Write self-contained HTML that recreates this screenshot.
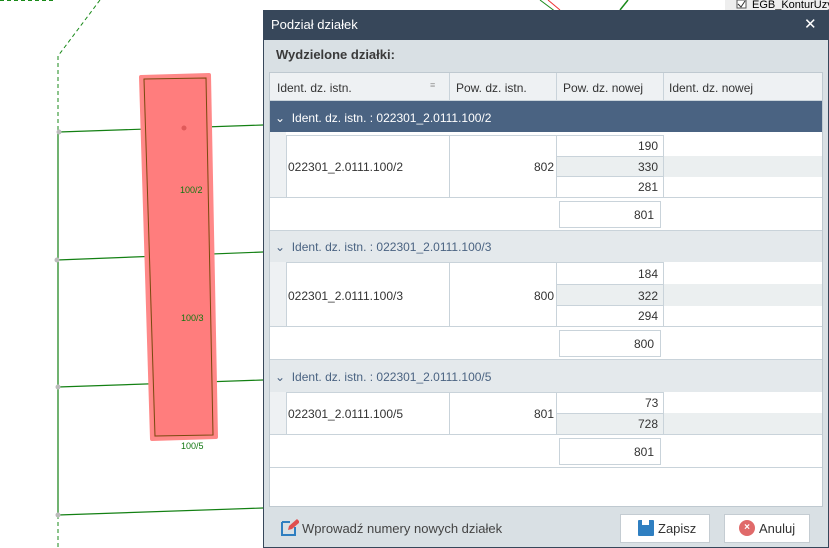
<!DOCTYPE html><html><head><meta charset="utf-8"><style>
body{margin:0;width:829px;height:548px;overflow:hidden;background:#fff;font-family:"Liberation Sans",sans-serif;font-size:12px;color:#333;position:relative}
.a{position:absolute;box-sizing:border-box}
.t{position:absolute;white-space:nowrap}
.c{border:1px solid #c9d3da;background:#fff}
</style></head><body>
<svg class="a" style="left:0;top:0" width="829" height="548">
<polyline points="100,0 58,56 58,132" fill="none" stroke="#1a8a1a" stroke-dasharray="4,3"/>
<line x1="58" y1="515" x2="58" y2="548" stroke="#1a8a1a" stroke-dasharray="4,3"/>
<line x1="0" y1="0" x2="56" y2="0" stroke="#1a8a1a" stroke-dasharray="4,3" stroke-width="2"/>
<g stroke="#138013" stroke-width="1.2">
<line x1="59" y1="132" x2="263" y2="125"/><line x1="57" y1="260" x2="263" y2="252"/>
<line x1="58" y1="387" x2="263" y2="380"/><line x1="58" y1="515" x2="263" y2="508"/>
<line x1="58" y1="132" x2="58" y2="515"/></g>
<polygon points="141,77 209,75 216,437 152,439" fill="#ff7d7d" stroke="#f88" stroke-width="4" stroke-linejoin="round"/>
<polygon points="144,79 206,78 213,435 155,436" fill="none" stroke="#7a4a10" stroke-width="1"/>
<g fill="#bbb"><circle cx="59" cy="132" r="2.5"/><circle cx="57" cy="260" r="2.5"/><circle cx="58" cy="387" r="2.5"/><circle cx="58" cy="515" r="2.5"/></g>
<circle cx="184" cy="128" r="2.5" fill="#e05a5a"/>
<g font-size="9" fill="#117711" font-family="Liberation Sans"><text x="180" y="193">100/2</text><text x="181" y="321">100/3</text><text x="181" y="449">100/5</text></g>
<line x1="540" y1="0" x2="556" y2="12" stroke="#1a8a1a"/><line x1="548" y1="0" x2="560" y2="10" stroke="#e33"/>
<line x1="620" y1="10" x2="628" y2="0" stroke="#1a8a1a" stroke-width="1.5"/>
<rect x="725" y="0" width="104" height="10" fill="#eee"/>
<text x="752" y="8" font-size="11" font-family="Liberation Sans" fill="#000">EGB_KonturUzy</text>
<rect x="737" y="0" width="9" height="8" fill="#fff" stroke="#555"/>
<path d="M738 4l3 3 4-6" fill="none" stroke="#333"/>
</svg>
<div class="a" style="left:263px;top:10px;width:566px;height:538px;background:#d9e0e4;border:1px solid #37475a"></div>
<div class="a" style="left:263px;top:10px;width:566px;height:30px;background:#37475a"></div>
<div class="t" style="left:271px;top:17px;color:#fff;font-size:13px">Podział działek</div>
<div class="t" style="left:804px;top:15px;color:#fff;font-size:15px">✕</div>
<div class="t" style="left:276px;top:47px;font-weight:bold;font-size:13px;color:#3a3a3a">Wydzielone działki:</div>
<div class="a" style="left:269px;top:72px;width:554px;height:435px;background:#fff;border:1px solid #bfc9d0"></div>
<div class="a" style="left:270px;top:73px;width:552px;height:28px;background:#eef1f3;border-bottom:1px solid #c9d3da"></div>
<div class="a" style="left:449px;top:73px;width:1px;height:28px;background:#c9d3da"></div>
<div class="a" style="left:556px;top:73px;width:1px;height:28px;background:#c9d3da"></div>
<div class="a" style="left:663px;top:73px;width:1px;height:28px;background:#c9d3da"></div>
<div class="t" style="left:277px;top:81px">Ident. dz. istn.</div>
<div class="t" style="left:430px;top:80px;font-size:9px;color:#999">≡</div>
<div class="t" style="left:456px;top:81px">Pow. dz. istn.</div>
<div class="t" style="left:563px;top:81px">Pow. dz. nowej</div>
<div class="t" style="left:669px;top:81px">Ident. dz. nowej</div>

<div class="a" style="left:270px;top:101px;width:552px;height:31px;background:#4a6382"></div>
<div class="t" style="left:275px;top:111px;color:#fff">⌄ &nbsp;Ident. dz. istn. : 022301_2.0111.100/2</div>

<div class="a" style="left:270px;top:132px;width:552px;height:99px;background:#fff"></div>
<div class="a" style="left:270px;top:132px;width:16px;height:66px;background:#eef1f3"></div>
<div class="a c" style="left:286px;top:135px;width:164px;height:63px"></div>
<div class="a c" style="left:449px;top:135px;width:108px;height:63px"></div>
<div class="a c" style="left:556px;top:135px;width:108px;height:22px"></div>
<div class="a c" style="left:556px;top:156px;width:108px;height:21px;background:#ebeff0"></div>
<div class="a" style="left:664px;top:156px;width:158px;height:21px;background:#ebeff0"></div>
<div class="a c" style="left:556px;top:176px;width:108px;height:22px"></div>
<div class="a" style="left:270px;top:197px;width:552px;height:1px;background:#c9d3da"></div>
<div class="t" style="left:288px;top:160px">022301_2.0111.100/2</div>
<div class="t" style="left:534px;top:160px">802</div>
<div class="t" style="left:638px;top:139px">190</div><div class="t" style="left:638px;top:160px">330</div><div class="t" style="left:638px;top:180px">281</div>
<div class="a c" style="left:559px;top:201px;width:102px;height:27px"></div>
<div class="t" style="left:634px;top:208px">801</div>
<div class="a" style="left:270px;top:230px;width:552px;height:1px;background:#c9d3da"></div>

<div class="a" style="left:270px;top:231px;width:552px;height:31px;background:#e4e9ec"></div>
<div class="t" style="left:275px;top:240px;color:#4a6382">⌄ &nbsp;Ident. dz. istn. : 022301_2.0111.100/3</div>
<div class="a" style="left:270px;top:262px;width:16px;height:64px;background:#eef1f3"></div>
<div class="a c" style="left:286px;top:262px;width:164px;height:65px"></div>
<div class="a c" style="left:449px;top:262px;width:108px;height:65px"></div>
<div class="a c" style="left:556px;top:262px;width:108px;height:23px"></div>
<div class="a c" style="left:556px;top:284px;width:108px;height:22px;background:#ebeff0"></div>
<div class="a" style="left:664px;top:284px;width:158px;height:22px;background:#ebeff0"></div>
<div class="a c" style="left:556px;top:305px;width:108px;height:22px"></div>
<div class="a" style="left:270px;top:326px;width:552px;height:1px;background:#c9d3da"></div>
<div class="t" style="left:288px;top:289px">022301_2.0111.100/3</div>
<div class="t" style="left:534px;top:289px">800</div>
<div class="t" style="left:638px;top:267px">184</div><div class="t" style="left:638px;top:289px">322</div><div class="t" style="left:638px;top:309px">294</div>
<div class="a c" style="left:559px;top:330px;width:102px;height:27px"></div>
<div class="t" style="left:634px;top:337px">800</div>
<div class="a" style="left:270px;top:359px;width:552px;height:1px;background:#c9d3da"></div>

<div class="a" style="left:270px;top:360px;width:552px;height:32px;background:#e4e9ec"></div>
<div class="t" style="left:275px;top:370px;color:#4a6382">⌄ &nbsp;Ident. dz. istn. : 022301_2.0111.100/5</div>
<div class="a" style="left:270px;top:392px;width:16px;height:42px;background:#eef1f3"></div>
<div class="a c" style="left:286px;top:392px;width:164px;height:43px"></div>
<div class="a c" style="left:449px;top:392px;width:108px;height:43px"></div>
<div class="a c" style="left:556px;top:392px;width:108px;height:22px"></div>
<div class="a c" style="left:556px;top:413px;width:108px;height:22px;background:#ebeff0"></div>
<div class="a" style="left:664px;top:413px;width:158px;height:21px;background:#ebeff0"></div>
<div class="a" style="left:270px;top:434px;width:552px;height:1px;background:#c9d3da"></div>
<div class="t" style="left:288px;top:407px">022301_2.0111.100/5</div>
<div class="t" style="left:534px;top:407px">801</div>
<div class="t" style="left:645px;top:396px">73</div><div class="t" style="left:638px;top:417px">728</div>
<div class="a c" style="left:559px;top:438px;width:102px;height:27px"></div>
<div class="t" style="left:634px;top:445px">801</div>
<div class="a" style="left:270px;top:467px;width:552px;height:1px;background:#c9d3da"></div>

<svg class="a" style="left:281px;top:518px" width="18" height="18"><path d="M1 4h8M1 4v13h13v-8" fill="none" stroke="#2f7fc1" stroke-width="2"/><path d="M7 12l1-4 8-7 3 3-8 7z" fill="#e05050"/></svg>
<div class="t" style="left:302px;top:521px;font-size:13px;color:#444">Wprowadź numery nowych działek</div>
<div class="a" style="left:620px;top:514px;width:90px;height:29px;background:#fff;border:1px solid #c4ccd2"></div>
<svg class="a" style="left:638px;top:520px" width="16" height="16"><rect x="0" y="0" width="16" height="16" rx="1" fill="#2f7fc1"/><rect x="4" y="0" width="7" height="5" fill="#fff"/></svg>
<div class="t" style="left:658px;top:521px;font-size:13px">Zapisz</div>
<div class="a" style="left:724px;top:514px;width:86px;height:29px;background:#fff;border:1px solid #c4ccd2"></div>
<div class="a" style="left:739px;top:520px;width:16px;height:16px;border-radius:50%;background:#e06a6a;color:#fff;font-size:10px;text-align:center;line-height:16px;font-weight:bold">×</div>
<div class="t" style="left:759px;top:521px;font-size:13px">Anuluj</div>
</body></html>
